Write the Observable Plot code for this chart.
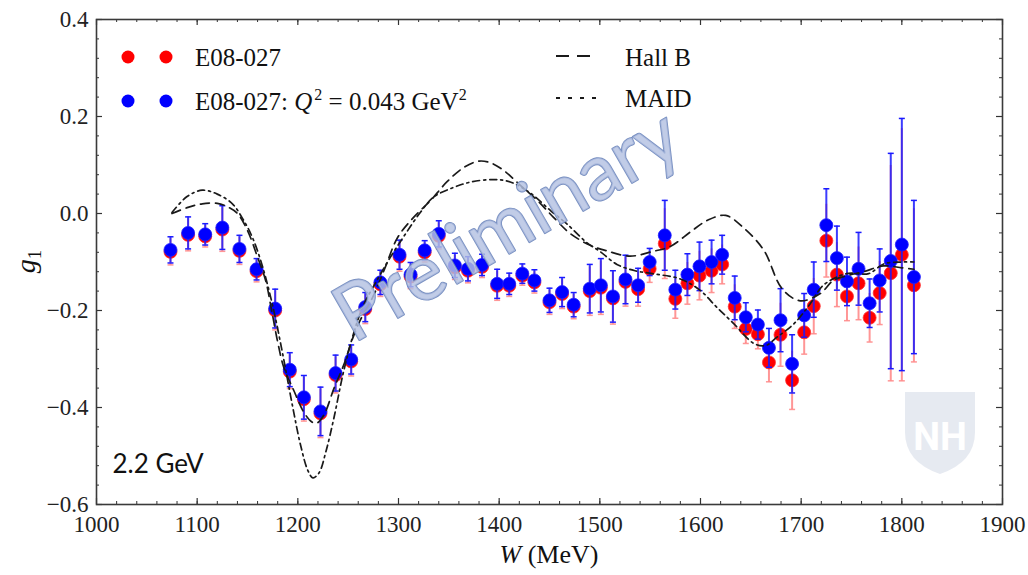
<!DOCTYPE html>
<html>
<head>
<meta charset="utf-8">
<script src="https://cdn.jsdelivr.net/npm/d3@7"></script>
<script src="https://cdn.jsdelivr.net/npm/@observablehq/plot@0.6"></script>
<style>
  html, body { margin: 0; padding: 0; background: #fff; }
  #chart svg { display: block; }
</style>
</head>
<body>
<div id="chart"></div>
<script>
// ---- data ----
const W = [1073.5,1091,1108,1125,1142,1159,1177.5,1192,1206,1222.5,1237.5,1253,
  1267,1282,1301,1312,1326,1340,1356,1369,1383,1398,1410,1423,1435,1450,1462.5,1474,1490,1501,
  1513,1525.5,1538,1549.5,1564.5,1575,1587,1599,1611,1621.5,1634,1645,1657,1668,1679.5,1691,1703,1712.5,1725,1735.5,
  1745.5,1757,1768,1778,1789,1800,1812];
const g1Blue = [-0.075,-0.040,-0.043,-0.029,-0.073,-0.115,-0.196,-0.322,-0.379,-0.408,-0.329,-0.301,
  -0.193,-0.142,-0.085,-0.126,-0.076,-0.042,-0.107,-0.114,-0.106,-0.145,-0.145,-0.124,-0.138,-0.179,-0.162,-0.188,-0.155,-0.148,
  -0.171,-0.136,-0.148,-0.100,-0.045,-0.157,-0.126,-0.109,-0.100,-0.085,-0.174,-0.214,-0.229,-0.277,-0.220,-0.310,-0.210,-0.157,-0.024,-0.092,
  -0.140,-0.114,-0.185,-0.138,-0.098,-0.064,-0.131];
const g1Red = [-0.079,-0.044,-0.047,-0.033,-0.077,-0.119,-0.200,-0.326,-0.383,-0.412,-0.333,-0.305,
  -0.197,-0.146,-0.089,-0.130,-0.080,-0.046,-0.111,-0.118,-0.110,-0.149,-0.149,-0.128,-0.142,-0.183,-0.166,-0.192,-0.160,-0.153,
  -0.175,-0.141,-0.156,-0.114,-0.062,-0.176,-0.144,-0.128,-0.118,-0.105,-0.192,-0.238,-0.249,-0.307,-0.250,-0.344,-0.245,-0.191,-0.056,-0.126,
  -0.171,-0.144,-0.215,-0.164,-0.123,-0.085,-0.148];
const errG1 = [0.027,0.033,0.022,0.045,0.028,0.022,0.040,0.035,0.045,0.050,0.037,0.030,
  0.030,0.025,0.030,0.025,0.020,0.027,0.025,0.025,0.022,0.030,0.022,0.020,0.022,0.025,0.030,0.025,0.050,0.055,
  0.053,0.050,0.035,0.028,0.072,0.040,0.043,0.050,0.045,0.040,0.045,0.030,0.030,0.040,0.065,0.060,0.045,0.057,0.075,0.066,
  0.050,0.075,0.050,0.065,0.222,0.260,0.158];

const hallBW = [1075,1090,1105,1120,1130,1140,1150,1160,1168,1174,1180,1186,1196,1206,1214,1219,1226,1236,1246,1254,1262,1275,1287,1299,1315,1332,1348,1365,1380,1392,1405,1420,1438,1454,1471,1491,1507,1530,1553,1570,1590,1607,1625,1643,1663,1681,1699,1719,1732,1746,1762,1782,1800,1812];
const hallBG = [0.0,0.012,0.020,0.021,0.014,0.0,-0.035,-0.090,-0.138,-0.200,-0.265,-0.317,-0.365,-0.410,-0.430,-0.432,-0.415,-0.360,-0.310,-0.260,-0.220,-0.170,-0.110,-0.050,-0.008,0.027,0.065,0.095,0.108,0.104,0.088,0.060,0.027,-0.008,-0.042,-0.066,-0.077,-0.088,-0.078,-0.068,-0.038,-0.014,-0.004,-0.030,-0.076,-0.155,-0.180,-0.165,-0.138,-0.128,-0.120,-0.108,-0.112,-0.115];

const maidW = [1075,1090,1105,1120,1135,1145,1155,1165,1175,1185,1195,1203,1210,1215,1221,1228,1236,1245,1255,1265,1278,1292,1306,1322,1335,1355,1372,1395,1411,1431,1451,1467,1487,1500,1517,1535,1552,1580,1600,1616,1633,1653,1665,1676,1693,1709,1722,1745,1767,1782,1800,1812];
const maidG = [0.002,0.035,0.048,0.040,0.020,-0.010,-0.050,-0.110,-0.190,-0.290,-0.400,-0.480,-0.530,-0.545,-0.535,-0.490,-0.420,-0.330,-0.250,-0.190,-0.140,-0.090,-0.045,0.003,0.034,0.054,0.065,0.070,0.065,0.042,0.006,-0.021,-0.060,-0.078,-0.105,-0.118,-0.124,-0.135,-0.159,-0.193,-0.227,-0.268,-0.272,-0.255,-0.227,-0.186,-0.148,-0.124,-0.124,-0.104,-0.100,-0.100];

const xTicks = [1000,1100,1200,1300,1400,1500,1600,1700,1800,1900];
const yTicks = [-0.6,-0.4,-0.2,0.0,0.2,0.4];
const xMinor = d3.range(1000, 1901, 20);
const yMinor = d3.range(-0.6, 0.4001, 0.04);

// ---- tables ----
const red = W.map((w, i) => ({W: w, g: g1Red[i], e: errG1[i]}));
const blue = W.map((w, i) => ({W: w, g: g1Blue[i], e: errG1[i]}));
const hallB = hallBW.map((w, i) => ({W: w, g: hallBG[i]}));
const maid = maidW.map((w, i) => ({W: w, g: maidG[i]}));

const width = 1028, height = 575;
const mL = 96, mR = 26, mT = 19, mB = 71;
const pw = width - mL - mR, ph = height - mT - mB;

const hline = {draw(ctx, size) { const r = Math.sqrt(size / Math.PI); ctx.moveTo(-r, 0); ctx.lineTo(r, 0); }};

const serif = "'Liberation Serif', 'DejaVu Serif', serif";

const chart = Plot.plot({
  width, height,
  marginLeft: mL, marginRight: mR, marginTop: mT, marginBottom: mB,
  x: {domain: [1000, 1900]},
  y: {domain: [-0.6, 0.4]},
  style: {fontFamily: serif, background: "#fff", color: "#222"},
  marks: [
    // red series
    Plot.ruleX(red, {x: "W", y1: d => d.g - d.e, y2: d => d.g + d.e, stroke: "#ff5050", strokeOpacity: 0.6, strokeWidth: 2}),
    Plot.dot(red, {x: "W", y: d => d.g - d.e, symbol: hline, r: 3, stroke: "#ff5050", strokeOpacity: 0.6, strokeWidth: 1.5}),
    Plot.dot(red, {x: "W", y: "g", r: 6.5, fill: "#ff0000", stroke: "#ff3030", strokeWidth: 0.8}),
    // blue series
    Plot.ruleX(blue, {x: "W", y1: d => d.g - d.e, y2: d => d.g + d.e, stroke: "#1a1aff", strokeOpacity: 0.85, strokeWidth: 2}),
    Plot.dot(blue, {x: "W", y: d => d.g + d.e, symbol: hline, r: 3, stroke: "#1a1aff", strokeWidth: 1.5}),
    Plot.dot(blue, {x: "W", y: d => d.g - d.e, symbol: hline, r: 3, stroke: "#1a1aff", strokeWidth: 1.5}),
    Plot.dot(blue, {x: "W", y: "g", r: 6.5, fill: "#0000ff", stroke: "#2020ff", strokeWidth: 0.8}),
    // model curves
    Plot.line(hallB, {x: "W", y: "g", curve: "catmull-rom", stroke: "#1a1a1a", strokeWidth: 1.7, strokeDasharray: "9,6"}),
    Plot.line(maid, {x: "W", y: "g", curve: "catmull-rom", stroke: "#1a1a1a", strokeWidth: 1.7, strokeDasharray: "7,4,2,4"}),
    // inward ticks on all four sides
    Plot.tickX(xMinor, {x: d => d, insetTop: ph - 3, stroke: "#333", strokeWidth: 1}),
    Plot.tickX(xMinor, {x: d => d, insetBottom: ph - 3, stroke: "#333", strokeWidth: 1}),
    Plot.tickX(xTicks, {x: d => d, insetTop: ph - 6, stroke: "#333", strokeWidth: 1.2}),
    Plot.tickX(xTicks, {x: d => d, insetBottom: ph - 6, stroke: "#333", strokeWidth: 1.2}),
    Plot.tickY(yMinor, {y: d => d, insetRight: pw - 3, stroke: "#333", strokeWidth: 1}),
    Plot.tickY(yMinor, {y: d => d, insetLeft: pw - 3, stroke: "#333", strokeWidth: 1}),
    Plot.tickY(yTicks, {y: d => d, insetRight: pw - 6, stroke: "#333", strokeWidth: 1.2}),
    Plot.tickY(yTicks, {y: d => d, insetLeft: pw - 6, stroke: "#333", strokeWidth: 1.2}),
    Plot.frame({stroke: "#3a3a3a", strokeWidth: 1.6}),
    Plot.axisX({ticks: xTicks, tickSize: 0, tickPadding: 11, fontSize: 23, tickFormat: "d", label: null}),
    Plot.axisY({ticks: yTicks, tickSize: 0, tickPadding: 8, fontSize: 23, tickFormat: ".1f", label: null}),
    // annotations
    Plot.text(["2.2 GeV"], {frameAnchor: "bottom-left", dx: 16, dy: -32, text: d => d, fontSize: 26,
      fontFamily: "Lato, 'Open Sans', sans-serif", fill: "#111", textAnchor: "start"}),
    Plot.text(["Preliminary"], {frameAnchor: "middle", dx: -42, dy: -36, text: d => d, rotate: -30,
      fontSize: 78, fontFamily: "Lato, 'Open Sans', sans-serif", fill: "#b3c1e2", fillOpacity: 0.82,
      stroke: "#6c85bb", strokeWidth: 1.8, strokeOpacity: 0.9})
  ]
});

document.getElementById("chart").appendChild(chart);

// ---- decorations: axis titles, legend, logo ----
const svg = d3.select(chart);
const deco = svg.append("g").attr("font-family", serif).attr("fill", "#111").attr("text-anchor", "start");

// x title
const xt = deco.append("text").attr("x", mL + pw / 2).attr("y", 563).attr("text-anchor", "middle").attr("font-size", 26);
xt.append("tspan").attr("font-style", "italic").text("W");
xt.append("tspan").text(" (MeV)");

// y title
const yt = deco.append("text").attr("transform", `translate(35,${mT + ph / 2}) rotate(-90)`).attr("text-anchor", "middle").attr("font-size", 28);
yt.append("tspan").attr("font-style", "italic").text("g");
yt.append("tspan").attr("font-size", 19).attr("dy", 6).text("1");

// legend (left)
const leg = deco.append("g");
[[128, 57, "#ff0000"], [166, 57, "#ff0000"], [128, 101, "#0000ff"], [166, 101, "#0000ff"]].forEach(([cx, cy, c]) =>
  leg.append("circle").attr("cx", cx).attr("cy", cy).attr("r", 6.5).attr("fill", c));
leg.append("text").attr("x", 195).attr("y", 66).attr("font-size", 25).text("E08-027");
const l2 = leg.append("text").attr("x", 195).attr("y", 110).attr("font-size", 25);
l2.append("tspan").text("E08-027: ");
l2.append("tspan").attr("font-style", "italic").text("Q");
l2.append("tspan").attr("font-size", 16).attr("dy", -10).attr("dx", 2).text("2");
l2.append("tspan").attr("dy", 10).text(" = 0.043 GeV");
l2.append("tspan").attr("font-size", 16).attr("dy", -10).text("2");

// legend (right)
leg.append("line").attr("x1", 556).attr("x2", 598).attr("y1", 56).attr("y2", 56)
  .attr("stroke", "#1a1a1a").attr("stroke-width", 1.8).attr("stroke-dasharray", "13,8");
leg.append("line").attr("x1", 556).attr("x2", 598).attr("y1", 98).attr("y2", 98)
  .attr("stroke", "#1a1a1a").attr("stroke-width", 1.8).attr("stroke-dasharray", "4,8");
leg.append("text").attr("x", 625).attr("y", 66).attr("font-size", 25).text("Hall B");
leg.append("text").attr("x", 625).attr("y", 107).attr("font-size", 25).text("MAID");

// faint UNH shield watermark
const logo = svg.append("g").attr("opacity", 0.9);
logo.append("path").attr("d", "M905,392 H975 V432 Q975,462 940,474 Q905,462 905,432 Z").attr("fill", "#e4e8f0");
logo.append("text").attr("x", 940).attr("y", 450).attr("text-anchor", "middle").attr("font-family", "Roboto, sans-serif")
  .attr("font-weight", "bold").attr("font-size", 38).attr("fill", "#fff").text("NH");
</script>
</body>
</html>
